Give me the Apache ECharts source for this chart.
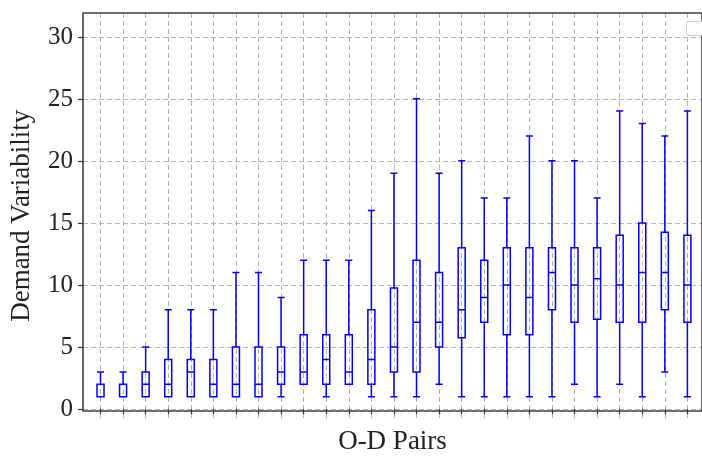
<!DOCTYPE html>
<html>
<head>
<meta charset="utf-8">
<script src="https://cdn.jsdelivr.net/npm/echarts@6/dist/echarts.min.js"></script>
<style>
  html, body { margin: 0; padding: 0; background: #fff; }
  #chart { width: 702px; height: 460px; }
</style>
</head>
<body>
<div id="chart"></div>
<script>
// one box per O-D pair
var odPairs = ['1','2','3','4','5','6','7','8','9','10','11','12','13','14',
               '15','16','17','18','19','20','21','22','23','24','25','26','27'];
var lows    = [1,1,1,1,1,1,1,1,1,2,1,2,1,1,1,2,1,1,1,1,1,2,1,2,1,3,1];
var q1s     = [1,1,1,1,1,1,1,1,2,2,2,2,2,3,3,5,5.75,7,6,6,8,7,7.25,7,7,8,7];
var medians = [1,1,2,2,3,2,2,2,3,3,4,3,4,5,7,7,8,9,10,9,11,10,10.5,10,11,11,10];
var q3s     = [2,2,3,4,4,4,5,5,5,6,6,6,8,9.75,12,11,13,12,13,13,13,13,13,14,15,14.25,14];
var highs   = [3,3,5,8,8,8,11,11,9,12,12,12,16,19,25,19,20,17,17,22,20,20,17,24,23,22,24];
var yTicks  = [0, 30, 5]; // min, max, step

var font = 'Liberation Serif';
var boxes = odPairs.map(function(p, i) {
    return [lows[i], q1s[i], medians[i], q3s[i], highs[i]];
});

var chart = echarts.init(document.getElementById('chart'));
chart.setOption({
    animation: false,
    backgroundColor: '#fff',
    grid: [
        // frame
        {left: 83, top: 13, right: -2, bottom: 41.5, show: true,
         borderColor: '#404040', borderWidth: 1.6, backgroundColor: 'transparent', z: 5},
        // boxes + x ticks
        {left: 100.5, top: 13, right: 14.6, bottom: 41.5},
        // y ticks and grid lines
        {left: 83, top: 37, right: -2, bottom: 50.7}
    ],
    xAxis: [
        {gridIndex: 0, type: 'value', min: 0, max: 1, axisLine: {show: false},
         axisTick: {show: false}, axisLabel: {show: false}, splitLine: {show: false},
         name: 'O-D Pairs', nameLocation: 'middle', nameGap: 17,
         nameTextStyle: {fontFamily: font, fontSize: 27, color: '#222', verticalAlign: 'top'}},
        {gridIndex: 1, type: 'category', data: odPairs, boundaryGap: false,
         axisLine: {show: false},
         axisTick: {show: true, interval: 0, length: 5, inside: false,
                    lineStyle: {color: '#333', width: 1.2}},
         axisLabel: {show: false, interval: 0},
         splitLine: {show: true, interval: 0,
                     lineStyle: {color: '#b4b4b4', type: [5, 3], width: 1}}},
        {gridIndex: 2, type: 'value', min: 0, max: 1, show: false}
    ],
    yAxis: [
        {gridIndex: 0, type: 'value', min: 0, max: 1, show: false},
        {gridIndex: 1, type: 'value', min: -0.75, max: 31.9,
         axisLine: {show: false}, axisTick: {show: false}, axisLabel: {show: false},
         splitLine: {show: false},
         name: 'Demand Variability', nameLocation: 'middle', nameGap: 65, nameRotate: 90,
         nameTextStyle: {fontFamily: font, fontSize: 27, color: '#222'}},
        {gridIndex: 2, type: 'value', min: yTicks[0], max: yTicks[1], interval: yTicks[2],
         axisLine: {show: false},
         axisTick: {show: true, length: 5, lineStyle: {color: '#333', width: 1.2}},
         axisLabel: {fontFamily: font, fontSize: 25, color: '#222', margin: 10},
         splitLine: {show: true, lineStyle: {color: '#b4b4b4', type: [5, 3], width: 1}}}
    ],
    graphic: [
        // empty legend frame, top right
        {type: 'rect', left: 686, top: 21, shape: {width: 24, height: 14, r: 2},
         style: {fill: '#fff', stroke: '#cccccc', lineWidth: 1}, z: 10}
    ],
    series: [{
        type: 'boxplot',
        xAxisIndex: 1,
        yAxisIndex: 1,
        data: boxes,
        boxWidth: [7, 7],
        itemStyle: {color: 'rgba(0,0,0,0)', borderColor: '#0000ff', borderWidth: 1.5},
        emphasis: {disabled: true},
        z: 3
    }]
});
</script>
</body>
</html>
